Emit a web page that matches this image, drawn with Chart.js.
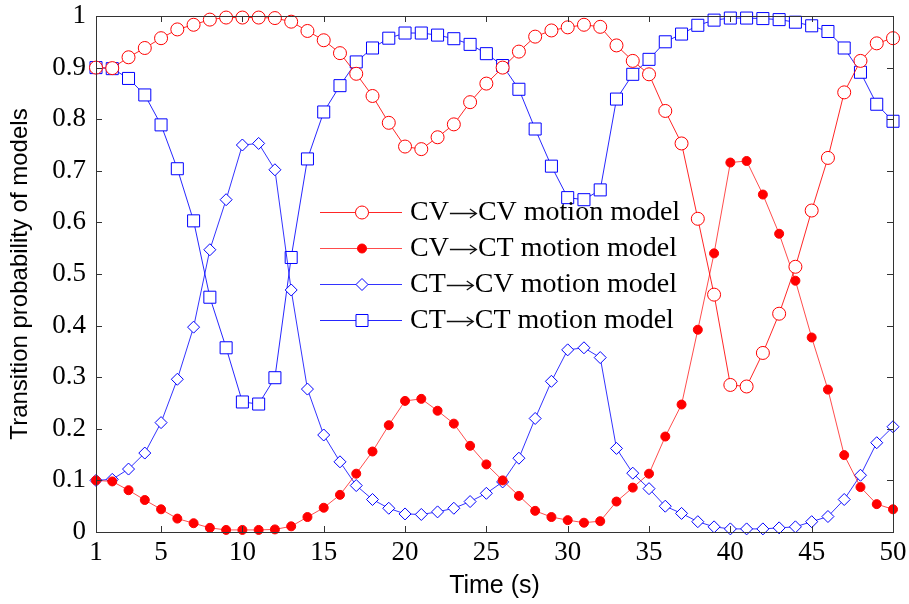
<!DOCTYPE html>
<html>
<head>
<meta charset="utf-8">
<script src="https://cdn.jsdelivr.net/npm/chart.js@4"></script>
<style>
  html, body { margin: 0; padding: 0; background: #fff; }
  #wrap { width: 909px; height: 604px; }
</style>
</head>
<body>
<div id="wrap"><canvas id="chart" width="909" height="604"></canvas></div>
<script>
// time steps 1..50 (s)
const times = [1,2,3,4,5,6,7,8,9,10,11,12,13,14,15,16,17,18,19,20,21,22,23,24,25,
  26,27,28,29,30,31,32,33,34,35,36,37,38,39,40,41,42,43,44,45,46,47,48,49,50];

const cvToCv = [0.900,0.899,0.920,0.938,0.957,0.974,0.983,0.993,0.997,0.997,
  0.997,0.996,0.989,0.971,0.953,0.928,0.888,0.845,0.793,0.747,
  0.742,0.765,0.790,0.833,0.869,0.900,0.931,0.960,0.972,0.978,
  0.983,0.979,0.943,0.913,0.887,0.816,0.753,0.607,0.460,0.285,
  0.282,0.347,0.423,0.514,0.623,0.725,0.852,0.913,0.947,0.957];

const cvToCt = [0.100,0.098,0.081,0.062,0.044,0.026,0.017,0.008,0.004,0.004,
  0.004,0.005,0.011,0.029,0.047,0.072,0.113,0.156,0.207,0.254,
  0.258,0.235,0.210,0.167,0.131,0.100,0.070,0.041,0.029,0.023,
  0.018,0.021,0.059,0.086,0.113,0.185,0.247,0.392,0.540,0.716,
  0.719,0.654,0.578,0.487,0.377,0.276,0.149,0.087,0.054,0.044];

const ctToCv = [0.100,0.102,0.122,0.153,0.212,0.296,0.397,0.547,0.644,0.750,
  0.753,0.702,0.469,0.277,0.188,0.136,0.090,0.063,0.046,0.035,
  0.034,0.039,0.046,0.059,0.075,0.097,0.143,0.220,0.292,0.353,
  0.357,0.338,0.162,0.114,0.084,0.050,0.036,0.020,0.010,0.006,
  0.006,0.006,0.008,0.010,0.020,0.030,0.063,0.110,0.173,0.204];

const ctToCt = [0.900,0.898,0.879,0.847,0.789,0.704,0.603,0.455,0.357,0.252,
  0.248,0.299,0.532,0.723,0.814,0.865,0.911,0.938,0.957,0.967,
  0.967,0.963,0.956,0.945,0.927,0.904,0.858,0.781,0.709,0.648,
  0.644,0.663,0.839,0.887,0.916,0.950,0.965,0.982,0.992,0.996,
  0.996,0.995,0.993,0.988,0.981,0.970,0.938,0.891,0.829,0.796];

// legend names split as [from, to] around the arrow
const seriesFrom = ['CV', 'CV', 'CT', 'CT'];
const seriesTo = ['CV', 'CT', 'CV', 'CT'];
const seriesNames = seriesFrom.map((f, i) => f + '\u2192' + seriesTo[i] + ' motion model');

const xTicks = [1,5,10,15,20,25,30,35,40,45,50];
const yTicks = [0,0.1,0.2,0.3,0.4,0.5,0.6,0.7,0.8,0.9,1];
const yTickLabels = ['0','0.1','0.2','0.3','0.4','0.5','0.6','0.7','0.8','0.9','1'];

function pts(arr) {
  return arr.map((v, i) => ({ x: times[i], y: v }));
}

const RED = '#ff0000';
const BLUE = '#0000ff';

// frame with inward ticks, plus the legend
const framePlugin = {
  id: 'frame',
  afterDraw(chart) {
    const ctx = chart.ctx;
    const a = chart.chartArea;
    const xs = chart.scales.x, ys = chart.scales.y;
    ctx.save();
    ctx.strokeStyle = '#333';
    ctx.lineWidth = 1;
    ctx.strokeRect(Math.round(a.left) + 0.5, Math.round(a.top) + 0.5,
      Math.round(a.right - a.left), Math.round(a.bottom - a.top));
    ctx.beginPath();
    xTicks.forEach(v => {
      const px = Math.round(xs.getPixelForValue(v)) + 0.5;
      ctx.moveTo(px, a.bottom); ctx.lineTo(px, a.bottom - 6);
      ctx.moveTo(px, a.top); ctx.lineTo(px, a.top + 6);
    });
    yTicks.forEach(v => {
      const py = Math.round(ys.getPixelForValue(v)) + 0.5;
      ctx.moveTo(a.left, py); ctx.lineTo(a.left + 6, py);
      ctx.moveTo(a.right, py); ctx.lineTo(a.right - 6, py);
    });
    ctx.stroke();

    // legend
    ctx.font = '28px "Liberation Serif"';
    ctx.textBaseline = 'middle';
    ctx.textAlign = 'left';
    chart.data.datasets.forEach((ds, i) => {
      const y = 212 + i * 36;
      ctx.strokeStyle = ds.borderColor;
      ctx.lineWidth = 1;
      ctx.beginPath();
      ctx.moveTo(320, y + 0.5); ctx.lineTo(402, y + 0.5);
      ctx.stroke();
      ctx.fillStyle = ds.pointBackgroundColor;
      ctx.strokeStyle = ds.pointBorderColor;
      Chart.helpers.drawPoint(ctx, {
        pointStyle: ds.pointStyle, rotation: 0,
        radius: ds.pointRadius, borderWidth: 1
      }, 362, y + 0.5);
      ctx.fillStyle = '#000';
      let x = 410;
      ctx.fillText(seriesFrom[i], x, y + 1);
      x += ctx.measureText(seriesFrom[i]).width;
      // thin long arrow
      const ay = y + 1.5;
      ctx.strokeStyle = '#111';
      ctx.lineWidth = 1.3;
      ctx.beginPath();
      ctx.moveTo(x + 1, ay); ctx.lineTo(x + 27, ay);
      ctx.moveTo(x + 21, ay - 4.5); ctx.lineTo(x + 27.5, ay); ctx.lineTo(x + 21, ay + 4.5);
      ctx.stroke();
      x += 29;
      ctx.fillText(seriesTo[i] + ' motion model', x, y + 1);
    });
    ctx.restore();
  }
};

function line(label, data, color, lineColor, style, r, fill) {
  return {
    label: label,
    data: pts(data),
    borderColor: lineColor,
    borderWidth: 1,
    pointStyle: style,
    pointRadius: r,
    pointHoverRadius: r,
    pointBorderWidth: 1,
    pointBorderColor: color,
    pointBackgroundColor: fill,
    tension: 0,
    clip: false
  };
}

new Chart(document.getElementById('chart'), {
  type: 'line',
  data: {
    datasets: [
      line(seriesNames[0], cvToCv, RED, 'rgba(255,0,0,0.85)', 'circle', 6.5, '#fff'),
      line(seriesNames[1], cvToCt, RED, 'rgba(255,0,0,0.7)', 'circle', 4.5, RED),
      line(seriesNames[2], ctToCv, BLUE, 'rgba(0,0,255,0.8)', 'rectRot', 6, '#fff'),
      line(seriesNames[3], ctToCt, BLUE, 'rgba(0,0,255,0.85)', 'rect', 8.5, '#fff')
    ]
  },
  options: {
    responsive: false,
    animation: false,
    devicePixelRatio: 1,
    layout: { padding: { left: 0, right: 16, top: 16, bottom: 0 } },
    plugins: {
      legend: { display: false },
      tooltip: { enabled: false }
    },
    scales: {
      x: {
        type: 'linear',
        min: 1,
        max: 50,
        afterBuildTicks: s => { s.ticks = xTicks.map(v => ({ value: v })); },
        afterFit: s => { s.height = 72; s.paddingLeft = 0; s.paddingRight = 0; },
        grid: { display: false, drawTicks: false },
        border: { display: false },
        ticks: {
          padding: 5,
          color: '#000',
          maxRotation: 0,
          autoSkip: false,
          font: { family: 'Liberation Serif', size: 27 }
        },
        title: {
          display: true,
          text: 'Time (s)',
          color: '#000',
          font: { family: 'Liberation Sans', size: 25 },
          padding: { top: 0, bottom: 3 }
        }
      },
      y: {
        min: 0,
        max: 1,
        afterBuildTicks: s => { s.ticks = yTicks.map(v => ({ value: v })); },
        afterFit: s => { s.width = 96; s.paddingTop = 0; s.paddingBottom = 0; },
        grid: { display: false, drawTicks: false },
        border: { display: false },
        ticks: {
          padding: 10,
          color: '#000',
          autoSkip: false,
          font: { family: 'Liberation Serif', size: 27 },
          callback: (v, i) => yTickLabels[i]
        },
        title: {
          display: true,
          text: 'Transition probability of models',
          color: '#000',
          font: { family: 'Liberation Sans', size: 24 },
          padding: { top: 6, bottom: 0 }
        }
      }
    }
  },
  plugins: [framePlugin]
});
</script>
</body>
</html>
